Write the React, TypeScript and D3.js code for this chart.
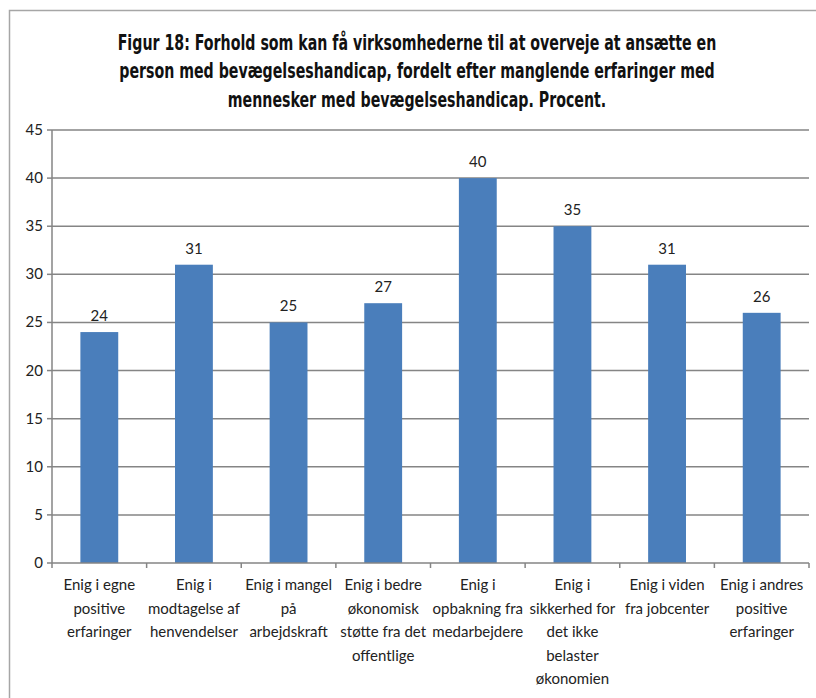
import React from "react";
import * as d3 from "d3";

const titleLines = [
  "Figur 18: Forhold som kan få virksomhederne til at overveje at ansætte en",
  "person med bevægelseshandicap, fordelt efter manglende erfaringer med",
  "mennesker med bevægelseshandicap. Procent.",
];

const categories = [
  ["Enig i egne", "positive", "erfaringer"],
  ["Enig i", "modtagelse af", "henvendelser"],
  ["Enig i mangel", "på", "arbejdskraft"],
  ["Enig i bedre", "økonomisk", "støtte fra det", "offentlige"],
  ["Enig i", "opbakning fra", "medarbejdere"],
  ["Enig i", "sikkerhed for", "det ikke", "belaster", "økonomien"],
  ["Enig i viden", "fra jobcenter"],
  ["Enig i andres", "positive", "erfaringer"],
];
const values = [24, 31, 25, 27, 40, 35, 31, 26];
const yTicks = [0, 5, 10, 15, 20, 25, 30, 35, 40, 45];

export default function App() {
  const W = 816;
  const H = 698;
  const left = 52;
  const right = 809;
  const top = 130;
  const bottom = 563;
  const keys = categories.map((_, i) => String(i));
  const x = d3.scaleBand<string>().domain(keys).range([left, right]).paddingInner(0.6).paddingOuter(0.3);
  const y = d3.scaleLinear().domain([0, 45]).range([bottom, top]);
  const step = x.step();
  const boundaries = d3.range(categories.length + 1).map((i) => left + i * step);
  const font = "Lato, 'Open Sans', sans-serif";
  const grid = "#858585";

  return (
    <svg width={W} height={H} style={{ position: "absolute", left: 0, top: 0, background: "#fff" }}>
      <rect x={0} y={0} width={W} height={H} fill="#fff" />
      <rect x={9.5} y={10.5} width={840} height={720} fill="none" stroke="#a6a6a6" strokeWidth={1.5} />
      <g transform="translate(417,0) scale(0.676,1)">
        {titleLines.map((t, i) => (
          <text
            key={i}
            x={0}
            y={50 + i * 28.5}
            textAnchor="middle"
            fontFamily="'DejaVu Sans', sans-serif"
            fontWeight="bold"
            fontSize={21}
            fill="#111"
          >
            {t}
          </text>
        ))}
      </g>
      {yTicks.map((t) => (
        <g key={t}>
          {t > 0 && <line x1={left} x2={right} y1={y(t)} y2={y(t)} stroke={grid} strokeWidth={1.5} />}
          <line x1={left - 5} x2={left} y1={y(t)} y2={y(t)} stroke={grid} strokeWidth={1.5} />
          <text x={left - 9} y={y(t) + 5} textAnchor="end" fontFamily={font} fontSize={15} fill="#222">
            {t}
          </text>
        </g>
      ))}
      {values.map((v, i) => (
        <g key={i}>
          <rect x={x(String(i))} y={y(v)} width={x.bandwidth()} height={y(0) - y(v)} fill="#4a7ebb" />
          <text
            x={(x(String(i)) as number) + x.bandwidth() / 2}
            y={y(v) - 11}
            textAnchor="middle"
            fontFamily={font}
            fontSize={15}
            fill="#222"
          >
            {v}
          </text>
        </g>
      ))}
      <line x1={left} x2={left} y1={top} y2={bottom} stroke={grid} strokeWidth={1.5} />
      <line x1={left} x2={right} y1={bottom} y2={bottom} stroke={grid} strokeWidth={1.5} />
      {boundaries.map((b, i) => (
        <line key={i} x1={b} x2={b} y1={bottom} y2={bottom + 5} stroke={grid} strokeWidth={1.5} />
      ))}
      {categories.map((lines, i) => (
        <text
          key={i}
          x={(x(String(i)) as number) + x.bandwidth() / 2}
          textAnchor="middle"
          fontFamily={font}
          fontSize={15}
          fill="#222"
        >
          {lines.map((l, j) => (
            <tspan key={j} x={(x(String(i)) as number) + x.bandwidth() / 2} y={590 + j * 23.5}>
              {l}
            </tspan>
          ))}
        </text>
      ))}
    </svg>
  );
}
